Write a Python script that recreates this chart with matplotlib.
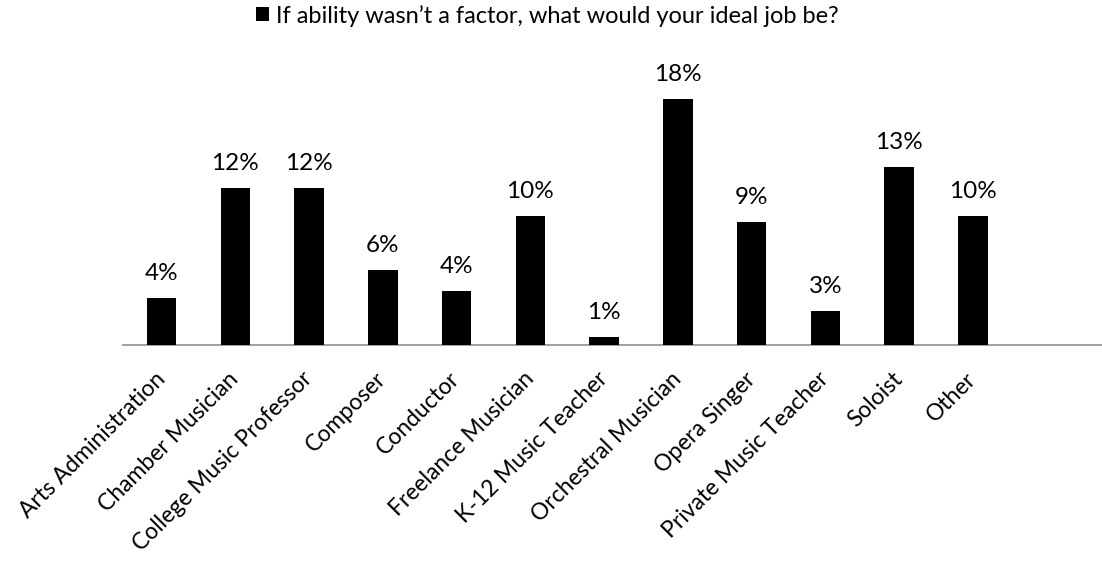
import matplotlib
matplotlib.use("Agg")
import matplotlib.pyplot as plt
from matplotlib.patches import Patch

plt.rcParams['font.family'] = ['Lato', 'DejaVu Sans']

# Survey answers (share of respondents, %)
jobs = [
    "Arts Administration", "Chamber Musician", "College Music Professor",
    "Composer", "Conductor", "Freelance Musician", "K-12 Music Teacher",
    "Orchestral Musician", "Opera Singer", "Private Music Teacher",
    "Soloist", "Other",
]
share = [3.53, 11.69, 11.69, 5.57, 4.05, 9.63, 0.6, 18.34, 9.16, 2.54, 13.26, 9.63]
series_name = "If ability wasn\u2019t a factor, what would your ideal job be?"

fig = plt.figure(figsize=(11.02, 5.61), dpi=100)
ax = fig.add_axes([0.1119, 0.385, 0.888, 0.4777])

x = list(range(len(jobs)))
bars = ax.bar(x, share, width=0.4, color="black", zorder=2)

# data labels, rounded to whole percent
for b, v in zip(bars, share):
    ax.annotate(f"{round(v)}%", (b.get_x() + b.get_width() / 2, v),
                xytext=(0, 13), textcoords="offset points",
                ha="center", va="baseline", fontsize=17.5)

ax.set_xlim(-0.52, 12.75)
ax.set_ylim(0, 20)

ax.set_xticks(x)
ax.set_xticklabels(jobs, rotation=45, ha="right", va="center",
                   rotation_mode="anchor", fontsize=16.5)
ax.tick_params(axis="x", length=0, pad=22)
ax.set_yticks([])

for side in ["top", "right", "left"]:
    ax.spines[side].set_visible(False)
ax.spines["bottom"].set_color("#999999")
ax.spines["bottom"].set_linewidth(1.3)
ax.spines["bottom"].set_zorder(1)

fig.legend(handles=[Patch(facecolor="black", label=series_name)],
           loc="upper center", bbox_to_anchor=(0.497, 1.0), frameon=False,
           fontsize=17, handlelength=0.55, handleheight=0.55, handletextpad=0.3,
           borderaxespad=0.0, borderpad=0.2)

fig.savefig("out.png", dpi=100)
